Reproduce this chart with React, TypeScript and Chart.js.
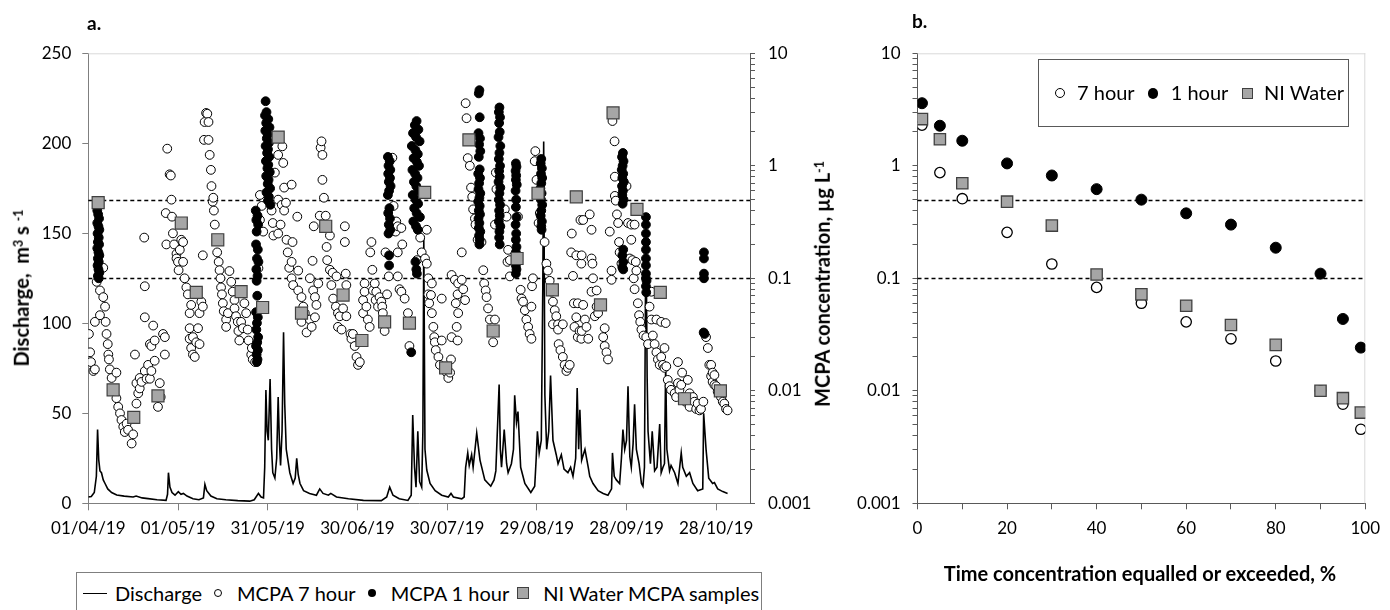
import React, { useEffect, useRef } from 'react';
import { Chart, registerables } from 'chart.js';

Chart.register(...registerables);

const FONT = 'Lato, "Open Sans", sans-serif';
Chart.defaults.font.family = FONT;
Chart.defaults.color = '#000';

// ---------- Panel a ----------
const dateTickDays = [0, 30, 60, 90, 120, 150, 180, 210];
const dateTickLabels = ['01/04/19', '01/05/19', '31/05/19', '30/06/19', '30/07/19', '29/08/19', '28/09/19', '28/10/19'];
const dischargeTicks = [0, 50, 100, 150, 200, 250];
const decadeValues = [0.001, 0.01, 0.1, 1, 10];
const decadeLabels = ['0.001', '0.01', '0.1', '1', '10'];
const thresholds = [0.1, 0.5];

// [day since 01/04/19, discharge m3/s]
const discharge: [number, number][] = [
  [0, 3.5], [1, 3.8], [2, 6], [2.7, 15], [3.1, 41], [3.5, 24], [3.9, 18], [4.4, 17], [5.0, 13], [5.6, 11], [6.5, 8], [7.8, 6], [9.5, 4.6], [12, 4], [15, 3.5], [16, 4], [18, 3], [20, 2.6], [23, 2], [26, 1.6],
  [26.5, 5], [26.8, 17], [27.3, 9], [28, 6], [29, 4.5], [30.1, 6.5], [31, 5], [31.8, 5.5], [33, 4], [35, 2.5], [37, 2], [38.5, 3], [39, 10.5], [39.6, 7], [41, 4], [43, 2.5], [46, 2], [50, 1.5], [54, 1.2], [55.5, 2],
  [56.9, 5.5], [57.8, 3.5], [58.6, 3], [59.0, 20], [59.4, 63], [59.8, 40], [60.2, 35], [60.8, 69], [61.3, 30], [61.7, 17], [62.4, 14], [63.0, 25], [63.5, 59], [63.9, 35], [64.3, 21], [64.8, 40], [65.3, 95], [65.7, 55], [66.2, 30], [67.4, 17],
  [68.5, 11], [69.2, 14], [69.7, 25], [70.2, 16], [70.8, 11], [72, 7], [74, 5.5], [76.3, 4.5], [77.4, 8], [78.5, 5.5], [80.3, 4.5], [81.1, 5.5], [83, 3.5], [87, 2.5], [92, 1.6], [98, 1.5], [99.8, 3.5], [100.8, 9], [101.9, 4.5], [104, 2.5],
  [106.9, 1.6], [108, 4.5], [108.5, 49], [109.1, 20], [109.6, 9], [110.2, 40], [110.8, 12], [111.5, 9], [111.9, 40], [112.2, 148], [112.6, 30], [113.2, 18.5], [114.3, 11], [116, 7], [118.2, 4.5], [120.4, 3.5], [121.3, 5.5], [122.1, 3.5], [124.9, 2.5], [125.7, 3.5],
  [126.2, 20], [126.9, 28], [127.4, 21], [128.2, 27], [128.7, 20], [129.9, 39], [131, 24], [132.6, 13], [134.6, 9.5], [135.7, 13], [136.3, 18], [137.4, 66], [137.8, 30], [138.2, 20], [139.1, 41], [139.9, 22], [140.4, 17], [141.5, 22], [142.2, 30], [142.6, 60],
  [143.2, 45], [143.7, 51], [144.6, 20], [146, 11], [148, 6], [149.3, 9.5], [149.8, 25], [150.2, 40], [150.8, 28], [151.5, 35], [152.0, 120], [152.3, 201], [152.7, 60], [153.3, 30], [154.0, 40], [154.6, 71], [155.4, 35], [156.5, 27], [157.1, 22], [158.2, 27],
  [159.1, 19], [160.4, 17], [161.3, 20], [162.1, 15], [163.0, 25], [163.5, 64], [164.0, 30], [164.4, 52], [165, 24], [166.1, 30], [167.2, 20], [167.7, 15], [168.8, 11], [170.5, 7], [172.2, 5.5], [173.8, 4.5], [175, 8], [175.3, 28], [175.9, 15], [176.6, 13],
  [177.7, 11], [178.3, 25], [178.8, 41], [179.4, 30], [180.0, 35], [180.5, 65], [181.1, 26], [181.6, 20], [182.2, 33], [182.7, 55], [183.3, 30], [184.2, 22], [185, 11], [185.5, 9.5], [186.0, 20], [186.5, 160], [186.9, 70], [187.2, 40], [188, 22], [188.6, 40],
  [189.4, 18], [190.2, 20], [191.1, 44], [191.6, 17], [192.2, 20], [192.7, 22], [193.1, 77], [193.5, 30], [194.4, 18], [194.9, 21], [196.1, 17], [197.2, 11], [198.3, 28], [198.8, 20], [200, 15], [201.1, 17], [202.2, 11], [203.8, 7], [205.5, 8], [205.8, 50],
  [206.6, 30], [207.5, 14], [208.8, 11], [209.4, 11.5], [210.5, 8], [212.2, 6.5], [213.8, 5.5],
];

// [day, MCPA µg/L] 7-hour composite samples
const mcpa7h: [number, number][] = [
  [0.2, 0.032], [0.6, 0.022], [0.9, 0.018], [1.7, 0.015], [2.2, 0.0155], [2.2, 0.041], [2.8, 0.093], [3.9, 0.078], [3.9, 0.047], [5.0, 0.124], [5.0, 0.068], [5.6, 0.056], [5.8, 0.041], [6.1, 0.032], [6.5, 0.026], [6.7, 0.021], [6.9, 0.019], [7.2, 0.0155], [7.8, 0.013], [8.3, 0.0102],
  [9.4, 0.0145], [9.4, 0.0086], [10.0, 0.0072], [10.6, 0.0063], [11.1, 0.0055], [11.7, 0.0048], [12.2, 0.0043], [12.8, 0.0051], [13.3, 0.0045], [14.5, 0.0034], [15.0, 0.0041], [15.6, 0.021], [16.1, 0.0117], [16.1, 0.0077], [16.7, 0.0095], [17.2, 0.013], [17.2, 0.0105], [17.8, 0.012], [18.7, 0.23], [18.9, 0.085],
  [18.9, 0.045], [18.9, 0.015], [19.5, 0.0128], [20.0, 0.017], [20.6, 0.0128], [20.6, 0.026], [21.1, 0.015], [21.1, 0.025], [21.7, 0.038], [22.2, 0.028], [22.2, 0.0185], [23.3, 0.0072], [23.9, 0.0117], [24.2, 0.0088], [25.0, 0.032], [25.6, 0.030], [25.6, 0.021],
  [25.9, 0.38], [26.1, 0.20], [26.4, 1.42], [27.2, 0.84], [27.6, 0.82], [27.8, 0.50], [28.0, 0.353], [28.3, 0.251], [28.7, 0.20], [29.5, 0.165], [29.5, 0.15], [30.0, 0.14], [30.2, 0.118], [30.6, 0.179], [31.1, 0.22], [31.7, 0.21], [31.7, 0.14], [32.2, 0.10], [32.8, 0.083], [33.3, 0.072],
  [33.9, 0.049], [33.9, 0.036], [33.9, 0.029], [34.4, 0.058], [34.4, 0.024], [35.0, 0.030], [35.0, 0.021], [35.6, 0.020], [36.1, 0.027], [36.7, 0.036], [37.2, 0.026], [37.2, 0.049], [37.8, 0.062], [38.3, 0.056], [38.3, 0.16],
  [38.7, 1.7], [38.9, 2.45], [39.4, 2.95], [39.8, 2.9], [40.2, 2.45], [40.2, 1.7], [40.6, 1.25], [41.0, 0.92], [41.2, 0.66], [41.6, 0.48], [41.8, 0.52], [42.0, 0.40], [42.3, 0.30], [43.1, 0.17], [43.6, 0.14], [43.9, 0.118], [44.2, 0.10], [44.4, 0.083], [44.7, 0.072], [45.0, 0.060],
  [45.3, 0.051], [46.1, 0.043], [46.1, 0.037], [46.7, 0.049], [47.2, 0.116], [47.8, 0.093], [48.3, 0.076], [48.9, 0.064], [48.9, 0.054], [49.4, 0.046], [50.0, 0.041], [50.2, 0.034], [50.5, 0.028], [51.1, 0.041], [51.7, 0.036], [52.2, 0.060], [52.8, 0.049], [53.3, 0.035], [53.6, 0.028], [54.5, 0.021], [55.0, 0.019],
  [54.7, 0.024], [55.8, 0.018], [56.9, 0.123], [57.4, 0.55], [57.4, 0.33], [58.0, 0.44], [58.5, 0.26],
  [61.3, 0.40], [61.7, 0.31], [61.9, 0.24], [62.4, 0.87], [63.5, 1.25], [63.5, 0.50], [63.5, 0.25], [64.3, 0.30], [64.7, 0.45], [64.9, 1.49], [65.2, 1.06], [65.5, 0.64], [65.5, 0.40], [66.1, 0.47], [66.3, 0.22], [66.7, 0.17], [67.2, 0.124], [68.0, 0.68], [68.0, 0.14], [68.0, 0.10],
  [68.3, 0.21], [68.5, 0.087], [69.9, 0.353], [70.2, 0.117], [70.2, 0.078], [71.3, 0.068], [71.3, 0.041], [71.9, 0.056], [72.4, 0.049], [73.0, 0.033], [74.1, 0.043], [74.1, 0.10], [74.7, 0.037], [75.0, 0.143], [75.2, 0.078], [75.4, 0.29], [75.8, 0.045], [75.8, 0.068], [76.3, 0.058], [76.9, 0.090],
  [77.4, 0.36], [77.7, 1.45], [78.0, 1.65], [78.3, 1.25], [78.3, 0.75], [78.8, 0.52], [79.4, 0.36], [79.7, 0.19], [79.9, 0.145], [80.8, 0.24], [80.8, 0.119], [81.3, 0.087], [81.7, 0.112], [81.9, 0.066], [82.8, 0.056], [83.0, 0.104], [83.5, 0.049], [83.5, 0.037], [84.1, 0.046], [84.7, 0.035],
  [85.2, 0.054], [85.8, 0.29], [85.8, 0.21], [86.1, 0.11], [86.3, 0.087], [86.3, 0.046], [87.7, 0.032], [88.0, 0.029], [88.5, 0.032], [89.1, 0.025], [89.7, 0.020], [90.2, 0.017], [90.8, 0.018],
  [91.9, 0.064], [91.9, 0.049], [92.4, 0.090], [92.4, 0.076], [93.0, 0.056], [93.5, 0.043], [94.1, 0.037], [94.3, 0.17], [94.7, 0.21], [95.0, 0.119], [95.2, 0.078], [95.8, 0.090], [96.1, 0.064], [96.3, 0.076], [96.9, 0.056], [97.4, 0.068], [98.0, 0.062], [98.3, 0.056], [98.5, 0.049], [99.1, 0.034],
  [99.4, 0.17], [99.9, 0.072], [100.5, 0.104],
  [101.7, 1.18], [102.1, 0.44], [102.8, 0.26], [103.0, 0.32], [103.5, 0.29], [103.5, 0.17], [103.5, 0.104], [104.1, 0.080], [104.7, 0.28], [104.7, 0.076], [105.0, 0.20], [105.8, 0.066], [106.9, 0.049], [107.4, 0.025],
  [109.9, 0.145], [111.0, 0.23], [111.5, 0.17], [112.6, 0.15], [113.2, 0.27], [113.2, 0.135], [113.7, 0.10], [113.7, 0.072], [114.0, 0.060], [114.6, 0.071], [114.9, 0.090], [114.9, 0.049], [115.4, 0.037], [115.7, 0.030], [115.9, 0.027], [116.2, 0.023], [117.1, 0.020], [117.6, 0.017], [118.2, 0.028], [118.2, 0.066],
  [119.9, 0.0145], [120.4, 0.013], [121.0, 0.0145], [121.3, 0.019], [121.5, 0.107], [121.5, 0.030], [122.6, 0.097], [122.9, 0.060], [123.2, 0.037], [123.5, 0.072], [123.5, 0.028], [123.7, 0.090], [123.7, 0.049], [124.9, 0.097], [124.9, 0.17], [125.4, 0.080], [126.0, 0.064],
  [126.2, 3.6], [126.5, 2.65], [126.9, 1.17], [127.6, 1.0], [128.0, 0.64], [128.4, 0.53], [128.7, 0.41], [129.3, 0.34], [129.5, 0.30], [130.2, 0.22], [131.5, 0.21], [132.1, 0.118], [132.4, 0.090], [132.9, 0.078], [133.2, 0.068], [133.7, 0.054], [134.3, 0.043], [135.4, 0.027], [136.0, 0.043], [136.0, 0.30],
  [136.3, 0.87], [136.5, 0.62], [139.3, 0.41], [139.9, 0.353], [140.2, 0.14], [140.4, 0.179], [141.0, 0.145], [141.0, 0.104], [143.7, 0.353], [144.6, 0.079], [144.9, 0.066], [145.4, 0.062], [146.0, 0.052], [146.5, 0.043], [147.1, 0.037], [147.6, 0.032], [148.2, 0.029], [148.2, 0.056], [148.4, 0.085], [148.7, 0.10],
  [149.3, 1.1], [149.5, 1.35], [149.9, 0.75], [150.6, 0.31], [151.0, 0.38], [152.6, 0.21], [153.2, 0.135], [153.7, 0.117], [154.3, 0.095], [154.9, 0.076], [155.4, 0.062], [155.4, 0.039], [156.0, 0.052], [156.5, 0.046], [157.1, 0.039], [157.1, 0.035], [157.3, 0.026], [157.9, 0.023], [158.7, 0.039], [158.7, 0.020],
  [159.3, 0.017], [159.9, 0.015], [160.4, 0.016], [161.0, 0.017],
  [161.5, 0.17], [161.7, 0.25], [162.1, 0.105], [162.4, 0.060], [162.6, 0.037], [163.2, 0.16], [163.2, 0.045], [163.7, 0.060], [163.7, 0.030], [164.3, 0.034], [164.6, 0.33], [164.9, 0.135], [164.9, 0.029],
  [165.0, 0.16], [165.0, 0.034], [165.5, 0.33], [165.5, 0.058], [166.1, 0.043], [166.6, 0.037], [167.2, 0.029], [167.7, 0.37], [168.3, 0.27], [168.3, 0.15], [168.3, 0.076], [168.6, 0.135], [168.8, 0.10], [169.4, 0.046], [170.0, 0.078], [170.0, 0.056], [170.5, 0.049], [172.2, 0.030], [172.7, 0.036], [172.7, 0.025],
  [173.3, 0.022], [173.8, 0.019], [174.4, 0.26], [175.0, 0.117], [175.0, 0.097],
  [175.3, 2.5], [176.0, 1.65], [176.1, 0.80], [176.1, 0.54], [176.4, 0.49], [176.8, 0.37], [177.2, 0.31], [177.5, 0.21], [177.7, 0.17], [178.3, 0.135], [180.0, 0.66], [180.5, 0.31], [181.1, 0.15], [181.6, 0.30], [181.6, 0.22], [182.0, 0.145], [182.4, 0.10], [182.7, 0.30], [182.7, 0.080], [183.1, 0.14],
  [183.3, 0.117], [183.8, 0.060], [184.2, 0.047], [184.6, 0.041], [185.0, 0.035], [185.7, 0.031], [186.6, 0.030], [187.2, 0.026], [187.7, 0.056], [188.3, 0.076], [188.3, 0.043], [188.8, 0.031], [189.4, 0.026], [190.0, 0.043], [190.0, 0.022], [190.5, 0.019], [191.1, 0.017], [191.6, 0.041], [191.6, 0.020], [192.2, 0.017],
  [192.7, 0.024], [192.7, 0.016], [193.1, 0.040], [193.3, 0.0165],
  [193.8, 0.0125], [194.4, 0.011], [194.9, 0.0102], [196.1, 0.0095], [196.6, 0.0088], [197.2, 0.018], [197.2, 0.0117], [197.7, 0.0102], [198.3, 0.0113], [198.6, 0.0145], [198.8, 0.0088], [199.7, 0.008], [200.0, 0.0086], [200.5, 0.0125], [201.1, 0.0095], [201.1, 0.0072], [202.2, 0.0088], [202.7, 0.008], [203.3, 0.0069], [203.8, 0.0077],
  [204.4, 0.0067], [204.9, 0.0069], [205.7, 0.008],
  [206.6, 0.030], [207.2, 0.024], [207.7, 0.017], [208.3, 0.017], [208.3, 0.0135], [208.8, 0.0145], [208.8, 0.012], [209.4, 0.0138], [209.4, 0.0113], [210.0, 0.011], [210.5, 0.0098], [211.6, 0.0088], [212.2, 0.008], [212.7, 0.0077], [213.3, 0.0069], [213.8, 0.0067],
];

// [day, MCPA µg/L] 1-hour samples
const mcpa1h: [number, number][] = [
  [3.0, 0.40], [3.3, 0.37], [3.6, 0.34], [3.0, 0.31], [3.4, 0.29], [3.7, 0.27], [3.1, 0.25], [3.5, 0.23], [3.2, 0.21], [3.6, 0.20], [3.0, 0.185], [3.4, 0.17], [3.7, 0.16], [3.2, 0.15], [3.5, 0.14], [3.1, 0.13], [3.4, 0.12], [3.7, 0.112], [3.2, 0.105], [3.5, 0.10],
  [56.0, 0.40], [56.6, 0.36], [56.2, 0.33], [56.8, 0.30], [56.3, 0.26], [56.1, 0.20], [56.7, 0.18], [56.4, 0.15], [56.9, 0.14], [56.2, 0.12], [56.6, 0.105], [56.3, 0.095], [56.5, 0.07], [56.1, 0.05], [56.7, 0.045], [56.4, 0.04], [56.2, 0.035], [56.8, 0.03], [56.5, 0.027], [56.1, 0.025], [56.7, 0.023], [56.3, 0.021], [56.6, 0.019], [56.4, 0.018],
  [59.3, 3.75], [59.6, 3.0], [59.1, 2.8], [60.2, 2.6], [59.5, 2.4], [60.6, 2.2], [59.2, 2.05], [60.0, 1.9], [59.7, 1.75], [60.4, 1.6], [59.3, 1.5], [60.1, 1.4], [59.8, 1.3], [60.5, 1.2], [59.4, 1.1], [60.2, 1.02], [59.9, 0.95], [60.7, 0.88], [59.5, 0.81], [60.3, 0.75], [60.0, 0.69], [60.8, 0.63], [59.6, 0.58], [60.4, 0.53], [60.1, 0.49], [60.9, 0.45],
  [100.2, 1.2], [100.8, 1.1], [100.4, 1.0], [101.0, 0.92], [100.3, 0.85], [100.9, 0.78], [100.5, 0.72], [101.1, 0.66], [100.6, 0.6], [100.2, 0.55], [100.7, 0.42], [100.3, 0.38], [100.9, 0.34], [100.5, 0.3], [101.0, 0.27], [100.4, 0.25], [100.6, 0.16], [100.6, 0.13],
  [109.8, 2.5], [109.2, 2.3], [110.4, 2.1], [108.6, 1.95], [109.6, 1.8], [110.8, 1.65], [108.2, 1.5], [109.4, 1.38], [110.2, 1.27], [108.8, 1.17], [109.9, 1.08], [110.6, 1.0], [108.4, 0.92], [109.3, 0.85], [110.1, 0.78], [108.9, 0.72], [109.7, 0.66], [110.5, 0.6], [108.5, 0.55], [109.5, 0.5], [110.3, 0.46], [109.0, 0.42], [109.8, 0.38], [110.9, 0.35], [108.7, 0.32], [109.6, 0.29], [110.2, 0.27], [109.4, 0.14], [109.7, 0.12], [109.9, 0.11], [108.0, 0.022],
  [130.8, 4.7], [130.6, 4.4], [130.9, 2.7], [130.5, 1.95], [131.0, 1.75], [130.7, 1.55], [131.1, 1.35], [130.6, 1.2], [130.9, 0.93], [130.4, 0.85], [131.0, 0.78], [130.7, 0.7], [130.5, 0.62], [131.1, 0.57], [130.8, 0.52], [130.4, 0.48], [130.9, 0.44], [130.6, 0.4], [131.0, 0.37], [130.5, 0.34], [130.8, 0.31], [130.6, 0.28], [131.1, 0.26], [130.7, 0.24], [130.9, 0.22], [130.8, 0.2],
  [137.5, 3.3], [137.3, 3.0], [137.7, 2.7], [137.4, 2.4], [137.6, 2.0], [137.2, 1.8], [137.8, 1.5], [137.5, 1.3], [137.3, 1.15], [137.7, 1.0], [137.4, 0.9], [137.6, 0.8], [137.2, 0.72], [137.8, 0.64], [137.5, 0.57], [137.3, 0.5], [137.7, 0.45], [137.4, 0.4], [137.6, 0.36], [137.3, 0.32], [137.8, 0.29], [137.5, 0.26], [137.4, 0.23], [137.6, 0.2],
  [143.0, 1.05], [143.2, 0.98], [142.9, 0.9], [143.1, 0.82], [143.0, 0.75], [143.3, 0.68], [142.9, 0.6], [143.1, 0.5], [143.0, 0.43], [143.2, 0.35], [142.9, 0.3], [143.1, 0.25], [143.0, 0.22], [143.2, 0.19], [143.0, 0.17], [143.1, 0.15], [143.0, 0.13], [143.2, 0.12], [143.0, 0.11],
  [151.5, 1.15], [151.3, 1.05], [151.7, 0.95], [151.4, 0.85], [151.8, 0.78], [151.5, 0.7], [151.2, 0.63], [151.6, 0.57], [151.4, 0.5], [151.8, 0.45], [151.5, 0.4], [151.3, 0.36], [151.7, 0.32], [151.5, 0.29], [151.6, 0.27],
  [178.8, 1.3], [178.5, 1.2], [179.0, 1.1], [178.7, 1.0], [178.4, 0.92], [178.9, 0.85], [178.6, 0.78], [179.1, 0.72], [178.5, 0.66], [178.8, 0.6], [178.6, 0.55], [179.0, 0.5], [178.7, 0.46], [178.9, 0.18], [178.6, 0.16], [178.9, 0.14], [178.6, 0.125], [178.9, 0.12],
  [186.5, 0.35], [186.5, 0.3], [186.5, 0.25], [186.5, 0.21], [186.5, 0.18], [186.5, 0.15], [186.5, 0.13], [186.5, 0.11], [186.5, 0.1], [186.7, 0.095], [186.5, 0.085], [186.6, 0.075],
  [205.9, 0.17], [205.9, 0.15], [205.9, 0.11], [205.9, 0.10], [205.8, 0.033], [206.1, 0.032],
];

// [day, MCPA µg/L] NI Water grab samples
const niWater: [number, number][] = [
  [3.3, 0.47], [8.3, 0.0102], [15.2, 0.0058], [23.3, 0.009], [31.1, 0.31], [36.1, 0.075], [43.3, 0.22], [51.1, 0.076], [58.3, 0.055], [63.5, 1.8],
  [71.3, 0.049], [79.4, 0.29], [85.2, 0.071], [91.5, 0.028], [99.1, 0.041], [107.4, 0.040], [112.5, 0.58], [119.5, 0.016], [127.3, 1.7], [135.4, 0.034],
  [143.4, 0.15], [150.4, 0.57], [155.2, 0.079], [163.2, 0.53], [171.3, 0.058], [175.5, 2.95], [183.5, 0.41], [191.3, 0.075], [199.4, 0.0085], [211.4, 0.010],
];

// ---------- Panel b ----------
const exceedPct = [1, 5, 10, 20, 30, 40, 50, 60, 70, 80, 90, 95, 99];
const exceed7h = [2.3, 0.87, 0.51, 0.256, 0.134, 0.083, 0.060, 0.041, 0.029, 0.0184, 0.0100, 0.0076, 0.00455];
const exceed1h = [3.6, 2.27, 1.67, 1.05, 0.82, 0.62, 0.50, 0.378, 0.30, 0.187, 0.11, 0.0435, 0.0242];
const exceedNI = [2.6, 1.72, 0.70, 0.48, 0.294, 0.108, 0.072, 0.057, 0.0385, 0.0256, 0.0100, 0.0086, 0.0064];
const pctTicks = [0, 10, 20, 30, 40, 50, 60, 70, 80, 90, 100];
const pctLabelled = [0, 20, 40, 60, 80, 100];

// log axis tick positions (1..9 x each decade)
const logTicks: number[] = [];
for (let i = 0; i < decadeValues.length - 1; i++) {
  for (let m = 1; m <= 9; m++) logTicks.push(+(decadeValues[i] * m).toPrecision(3));
}
logTicks.push(decadeValues[decadeValues.length - 1]);

const decadeLabel = (v: number) => {
  for (let i = 0; i < decadeValues.length; i++) {
    if (Math.abs(v / decadeValues[i] - 1) < 1e-6) return decadeLabels[i];
  }
  return '';
};

const AXIS = '#7f7f7f';
const TICK_FONT = { family: FONT, size: 17 };

const framePlugin = (logId: string, rightFrame: boolean) => ({
  id: 'frameAndThresholds',
  beforeDatasetsDraw(chart: any) {
    const { ctx, chartArea: a } = chart;
    const s = chart.scales[logId];
    ctx.save();
    ctx.strokeStyle = '#d9d9d9';
    ctx.lineWidth = 1;
    ctx.beginPath();
    ctx.moveTo(a.left, a.top + 0.5);
    ctx.lineTo(a.right, a.top + 0.5);
    if (rightFrame) {
      ctx.moveTo(a.right - 0.5, a.top);
      ctx.lineTo(a.right - 0.5, a.bottom);
    }
    ctx.stroke();
    ctx.strokeStyle = '#000';
    ctx.lineWidth = 1.4;
    ctx.setLineDash([4, 3]);
    thresholds.forEach((t) => {
      const y = Math.round(s.getPixelForValue(t)) + 0.5;
      ctx.beginPath();
      ctx.moveTo(a.left, y);
      ctx.lineTo(a.right, y);
      ctx.stroke();
    });
    ctx.restore();
  },
});

const toXY = (arr: [number, number][]) => arr.map(([x, y]) => ({ x, y }));

function PanelA() {
  const ref = useRef<HTMLCanvasElement>(null);
  useEffect(() => {
    const chart = new Chart(ref.current!, {
      type: 'scatter',
      data: {
        datasets: [
          {
            label: 'NI Water MCPA samples', data: toXY(niWater), yAxisID: 'y1',
            pointStyle: 'rect', pointRadius: 8.5, backgroundColor: '#a6a6a6', borderColor: '#404040', borderWidth: 1.2, order: 0,
          },
          {
            label: 'MCPA 1 hour', data: toXY(mcpa1h), yAxisID: 'y1',
            pointStyle: 'circle', pointRadius: 4.4, backgroundColor: '#000', borderColor: '#000', borderWidth: 1, order: 1,
          },
          {
            label: 'MCPA 7 hour', data: toXY(mcpa7h), yAxisID: 'y1',
            pointStyle: 'circle', pointRadius: 4.4, backgroundColor: '#fff', borderColor: '#000', borderWidth: 1, order: 2,
          },
          {
            label: 'Discharge', data: toXY(discharge), yAxisID: 'y', showLine: true,
            borderColor: '#000', borderWidth: 1.6, pointRadius: 0, tension: 0, order: 3,
          } as any,
        ],
      },
      options: {
        responsive: false,
        animation: false,
        events: [],
        layout: { padding: { top: 53.3, left: 0, right: 0, bottom: 0 } },
        plugins: { legend: { display: false }, tooltip: { enabled: false } },
        scales: {
          x: {
            type: 'linear', position: 'bottom', min: 0, max: 221.3,
            afterBuildTicks: (s: any) => { s.ticks = dateTickDays.map((v) => ({ value: v })); },
            afterFit: (s: any) => { s.height = 56.7; },
            ticks: {
              autoSkip: false, maxRotation: 0, minRotation: 0, padding: 8, font: TICK_FONT, color: '#000',
              callback: (v: any) => { const i = dateTickDays.indexOf(Number(v)); return i >= 0 ? dateTickLabels[i] : ''; },
            },
            grid: { drawOnChartArea: false, drawTicks: true, tickLength: 7, color: AXIS },
            border: { display: true, color: AXIS, width: 1 },
          },
          y: {
            type: 'linear', position: 'left', min: 0, max: 250,
            afterBuildTicks: (s: any) => { s.ticks = dischargeTicks.map((v) => ({ value: v })); },
            afterFit: (s: any) => { s.width = 88.3; },
            ticks: { autoSkip: false, padding: 11, font: TICK_FONT, color: '#000' },
            grid: { drawOnChartArea: false, drawTicks: true, tickLength: 6, color: AXIS },
            border: { display: true, color: AXIS, width: 1 },
          },
          y1: {
            type: 'logarithmic', position: 'right', min: 0.001, max: 10,
            afterBuildTicks: (s: any) => { s.ticks = logTicks.map((v) => ({ value: v })); },
            afterFit: (s: any) => { s.width = 130; },
            ticks: { autoSkip: false, padding: 13, font: TICK_FONT, color: '#000', callback: (v: any) => decadeLabel(Number(v)) },
            grid: { drawOnChartArea: false, drawTicks: true, tickLength: 5, color: '#595959' },
            border: { display: true, color: '#595959', width: 1 },
          },
        },
      },
      plugins: [framePlugin('y1', false)],
    });
    return () => chart.destroy();
  }, []);
  return <canvas ref={ref} width={880} height={560} style={{ position: 'absolute', left: 0, top: 0, width: 880, height: 560 }} />;
}

function PanelB() {
  const ref = useRef<HTMLCanvasElement>(null);
  useEffect(() => {
    const pts = (vals: number[]) => exceedPct.map((p, i) => ({ x: p, y: vals[i] }));
    const chart = new Chart(ref.current!, {
      type: 'scatter',
      data: {
        datasets: [
          { label: 'NI Water', data: pts(exceedNI), pointStyle: 'rect', pointRadius: 8, backgroundColor: '#a6a6a6', borderColor: '#404040', borderWidth: 1.3, order: 0 },
          { label: '1 hour', data: pts(exceed1h), pointStyle: 'circle', pointRadius: 5.5, backgroundColor: '#000', borderColor: '#000', borderWidth: 1, order: 1 },
          { label: '7 hour', data: pts(exceed7h), pointStyle: 'circle', pointRadius: 5.2, backgroundColor: '#fff', borderColor: '#000', borderWidth: 1.3, order: 2 },
        ],
      },
      options: {
        responsive: false,
        animation: false,
        events: [],
        layout: { padding: { top: 53.3, left: 0, right: 24.7, bottom: 0 } },
        plugins: { legend: { display: false }, tooltip: { enabled: false } },
        scales: {
          x: {
            type: 'linear', position: 'bottom', min: 0, max: 100,
            afterBuildTicks: (s: any) => { s.ticks = pctTicks.map((v) => ({ value: v })); },
            afterFit: (s: any) => { s.height = 56.7; },
            ticks: {
              autoSkip: false, maxRotation: 0, minRotation: 0, padding: 9, font: TICK_FONT, color: '#000',
              callback: (v: any) => (pctLabelled.includes(Number(v)) ? String(v) : ''),
            },
            grid: { drawOnChartArea: false, drawTicks: true, tickLength: 6, color: '#595959' },
            border: { display: true, color: '#595959', width: 1 },
          },
          y: {
            type: 'logarithmic', position: 'left', min: 0.001, max: 10,
            afterBuildTicks: (s: any) => { s.ticks = logTicks.map((v) => ({ value: v })); },
            afterFit: (s: any) => { s.width = 87.5; },
            ticks: { autoSkip: false, padding: 12, font: TICK_FONT, color: '#000', callback: (v: any) => decadeLabel(Number(v)) },
            grid: { drawOnChartArea: false, drawTicks: true, tickLength: 5, color: '#595959' },
            border: { display: true, color: '#595959', width: 1 },
          },
        },
      },
      plugins: [framePlugin('y', true)],
    });
    return () => chart.destroy();
  }, []);
  return <canvas ref={ref} width={560} height={560} style={{ position: 'absolute', left: 830, top: 0, width: 560, height: 560 }} />;
}

const txt = (extra: React.CSSProperties): React.CSSProperties => ({
  position: 'absolute', whiteSpace: 'nowrap', lineHeight: 1, fontFamily: FONT, color: '#000', ...extra,
});
const supStyle: React.CSSProperties = { position: 'relative', top: '-0.45em', fontSize: '0.62em' };
const marker = (cx: number, cy: number, size: number, extra: React.CSSProperties): React.CSSProperties => ({
  position: 'absolute', left: cx - size / 2, top: cy - size / 2, width: size, height: size, boxSizing: 'border-box', ...extra,
});

export default function App() {
  return (
    <div style={{ position: 'fixed', left: 0, top: 0, width: 1390, height: 610, background: '#fff', overflow: 'hidden' }}>
      <PanelA />
      <PanelB />
      {/* panel letters */}
      <div style={txt({ left: 87, top: 13, fontSize: 19, fontWeight: 700 })}>a.</div>
      <div style={txt({ left: 912, top: 11, fontSize: 19, fontWeight: 700 })}>b.</div>
      {/* axis titles */}
      <div style={txt({ left: 21, top: 288, fontSize: 20, fontWeight: 700, transform: 'translate(-50%,-50%) rotate(-90deg)' })}>
        Discharge,&nbsp; m<span style={supStyle}>3</span> s <span style={supStyle}>-1</span>
      </div>
      <div style={txt({ left: 822, top: 284, fontSize: 20, fontWeight: 700, transform: 'translate(-50%,-50%) rotate(-90deg)' })}>
        MCPA concentration, µg L<span style={supStyle}>-1</span>
      </div>
      <div style={txt({ left: 1140, top: 563, fontSize: 20, fontWeight: 700, transform: 'translateX(-50%)' })}>
        Time concentration equalled or exceeded, %
      </div>
      {/* legend a */}
      <div style={{ position: 'absolute', left: 76, top: 571.5, width: 686, height: 60, border: '1px solid #7f7f7f', boxSizing: 'border-box' }} />
      <div style={{ position: 'absolute', left: 83, top: 592.5, width: 24, height: 0, borderTop: '1.6px solid #000' }} />
      <div style={txt({ left: 115, top: 582.5, fontSize: 20 })}>Discharge</div>
      <div style={marker(218.3, 593.3, 8, { borderRadius: '50%', border: '1px solid #000', background: '#fff' })} />
      <div style={txt({ left: 237, top: 582.5, fontSize: 20 })}>MCPA 7 hour</div>
      <div style={marker(371.7, 593.3, 8, { borderRadius: '50%', background: '#000' })} />
      <div style={txt({ left: 390.7, top: 582.5, fontSize: 20 })}>MCPA 1 hour</div>
      <div style={marker(523.3, 593.3, 12, { border: '1px solid #404040', background: '#a6a6a6' })} />
      <div style={txt({ left: 543.3, top: 582.5, fontSize: 20 })}>NI Water MCPA samples</div>
      {/* legend b */}
      <div style={{ position: 'absolute', left: 1037.7, top: 59.3, width: 311.6, height: 68, border: '1px solid #595959', boxSizing: 'border-box' }} />
      <div style={marker(1060, 93.3, 10, { borderRadius: '50%', border: '1.2px solid #000', background: '#fff' })} />
      <div style={txt({ left: 1077, top: 82.3, fontSize: 20 })}>7 hour</div>
      <div style={marker(1153, 93.3, 10.5, { borderRadius: '50%', background: '#000' })} />
      <div style={txt({ left: 1170.7, top: 82.3, fontSize: 20 })}>1 hour</div>
      <div style={marker(1247, 93.3, 11, { border: '1px solid #404040', background: '#a6a6a6' })} />
      <div style={txt({ left: 1264, top: 82.3, fontSize: 20 })}>NI Water</div>
    </div>
  );
}
